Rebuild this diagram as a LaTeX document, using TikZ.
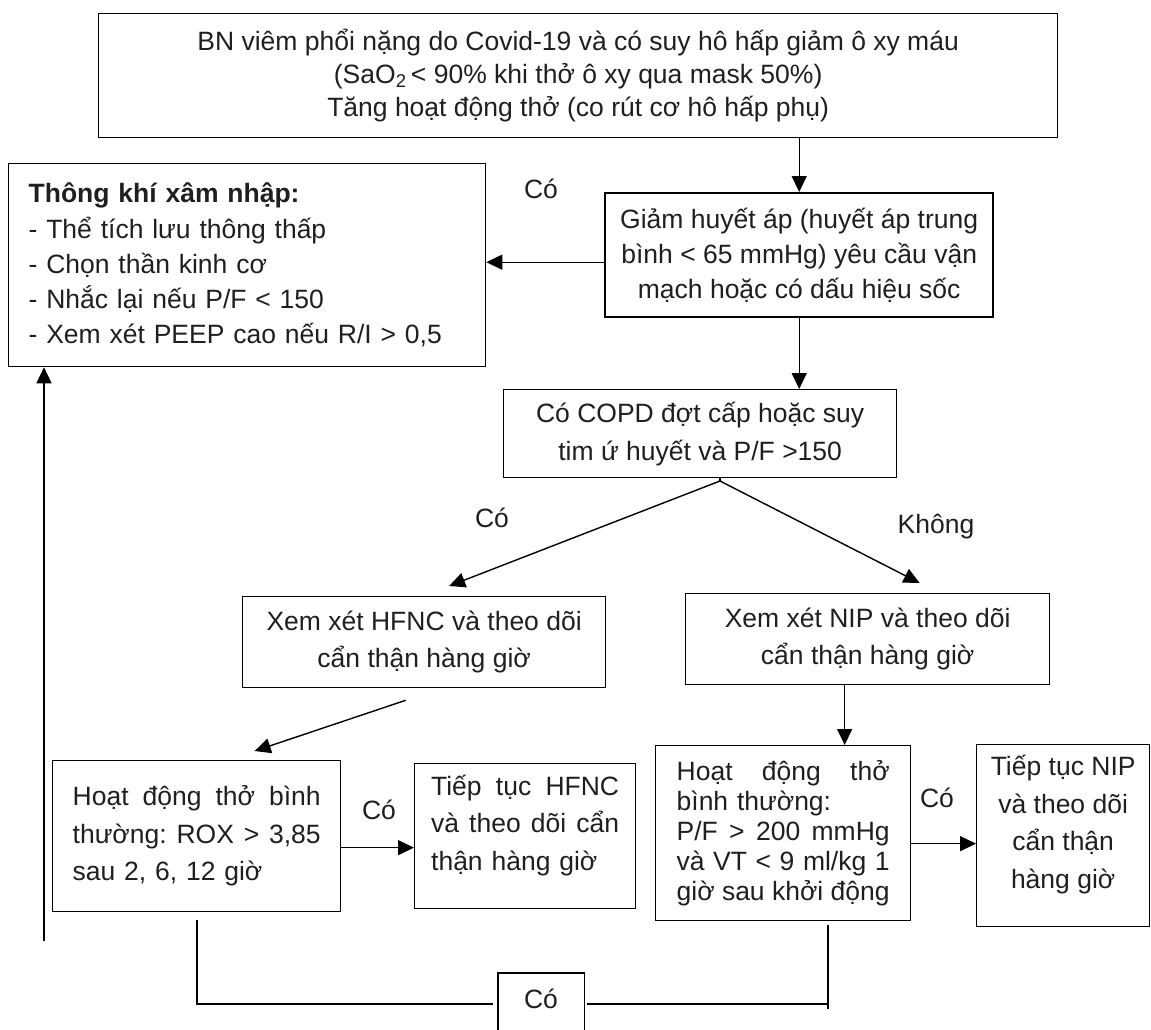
\documentclass[tikz,border=0pt]{standalone}
\usepackage{fontspec}
\setmainfont{Liberation Sans}
\usetikzlibrary{arrows.meta}
\newcommand\fsz[1]{\fontsize{26.5}{#1}\selectfont}
\newcommand\jline[2]{\leavevmode\hbox to #1pt{#2}}
\begin{document}
\begin{tikzpicture}[x=1pt,y=-1pt,
  box/.style={draw=black, line width=1.3pt, inner sep=0pt, anchor=north west, text=black!88},
  txt/.style={inner sep=0pt, text=black!88},
  ln/.style={line width=1.4pt},
  arr/.style={line width=1.4pt, -{Triangle[length=16pt,width=15pt]}},
  lbl/.style={inner sep=0pt, font=\fsz{30}, text=black!88}]
\useasboundingbox (0,0) rectangle (1151,1030);

% boxes
\node[box, minimum width=959, minimum height=124, align=center, font=\fsz{33}] (top) at (98,13)
 {BN viêm phổi nặng do Covid-19 và có suy hô hấp giảm ô xy máu\\(SaO\textsubscript{2}\,< 90\% khi thở ô xy qua mask 50\%)\\Tăng hoạt động thở (co rút cơ hô hấp phụ)};

\node[box, line width=2.4pt, minimum width=388, minimum height=124, align=center, font=\fsz{35}] (giam) at (604,192)
 {Giảm huyết áp (huyết áp trung\\bình < 65 mmHg) yêu cầu vận\\mạch hoặc có dấu hiệu sốc};

\node[box, minimum width=477, minimum height=203, align=left, text width=437, font=\fsz{35.3}] (left) at (8,163)
 {\textbf{Thông khí xâm nhập:}\\- Thể tích lưu thông thấp\\- Chọn thần kinh cơ\\- Nhắc lại nếu P/F < 150\\- Xem xét PEEP cao nếu R/I > 0,5};

\node[box, minimum width=393, minimum height=88, align=center, font=\fsz{38}] (copd) at (503,389)
 {Có COPD đợt cấp hoặc suy\\tim ứ huyết và P/F >150};

\node[box, minimum width=363, minimum height=91, align=center, font=\fsz{37}] (hx) at (242,596)
 {Xem xét HFNC và theo dõi\\cẩn thận hàng giờ};

\node[box, minimum width=364, minimum height=91, align=center, font=\fsz{37}] (nx) at (685,593)
 {Xem xét NIP và theo dõi\\cẩn thận hàng giờ};

\node[box, minimum width=288, minimum height=151, align=left, text width=248, font=\fsz{37.5}] (hh) at (52,760)
 {\jline{248}{Hoạt\hfill động\hfill thở\hfill bình}\\\jline{248}{thường:\hfill ROX\hfill >\hfill 3,85}\\sau 2, 6, 12 giờ};

\node[box, minimum width=221, minimum height=145] (ht) at (414,763) {};
\node[txt, align=left, text width=188, font=\fsz{37.5}] (httext) at ([yshift=11pt]ht.center)
 {\jline{188}{Tiếp\hfill tục\hfill HFNC}\\\jline{188}{và\hfill theo\hfill dõi\hfill cẩn}\\thận hàng giờ};

\node[box, minimum width=255, minimum height=175, align=left, text width=213, font=\fsz{30}] (nh) at (655,745)
 {\jline{213}{Hoạt\hfill động\hfill thở}\\bình thường:\\\jline{213}{P/F\hfill >\hfill 200\hfill mmHg}\\\jline{213}{và\hfill VT\hfill <\hfill 9\hfill ml/kg\hfill 1}\\\jline{213}{giờ\hfill sau\hfill khởi\hfill động}};

\node[box, minimum width=173, minimum height=182] (nt) at (976,744) {};
\node[txt, align=center, font=\fsz{37.5}] (nttext) at ([yshift=11pt]nt.center)
 {Tiếp tục NIP\\và theo dõi\\cẩn thận\\hàng giờ};

% bottom open box
\node[inner sep=0pt, minimum width=86, minimum height=120, anchor=north] (cobox) at (541,973) {};
\draw[ln] (cobox.south west) -- (cobox.north west) -- (cobox.north east) -- (cobox.south east);
\node[lbl] (colbl) at (541,999) {Có};

% labels
\node[lbl] (l1) at (541,189) {Có};
\node[lbl] (l2) at (492,518) {Có};
\node[lbl] (l3) at (936,527) {Không};
\node[lbl] (l4) at (379,810) {Có};
\node[lbl] (l5) at (937,798) {Có};

% coordinates
\coordinate (apex) at (720,481);
\coordinate (hxin) at ([xshift=25pt,yshift=10pt]hx.north);
\coordinate (nxin) at ([xshift=52pt,yshift=10pt]nx.north);
\coordinate (hxout) at ([xshift=-18.5pt,yshift=-12pt]hx.south);
\coordinate (hhin) at ([xshift=58pt,yshift=9pt]hh.north);
\coordinate (nxout) at ([xshift=-23pt]nx.south);
\coordinate (upstart) at (44,941);
\coordinate (hhb) at (197,920);
\coordinate (nhb) at (828,925);
\coordinate (cl) at (493,1004);
\coordinate (cr) at (587,1004);

% connectors
\draw[arr] (top.south -| giam.north) -- (giam.north);
\draw[arr] ([yshift=-7pt]giam.west) -- ([yshift=-7pt]giam.west -| left.east);
\draw[arr] (giam.south) -- (giam.south |- copd.north);
\draw[ln] (apex) -- (copd.south -| apex);
\draw[arr] (apex) -- (hxin);
\draw[arr] (apex) -- (nxin);
\draw[arr] (hxout) -- (hhin);
\draw[arr] (nxout) -- (nxout |- nh.north);
\draw[arr] ([yshift=-11.5pt]hh.east) -- ([yshift=-11.5pt]hh.east -| ht.west);
\draw[arr] ([yshift=-10.5pt]nh.east) -- ([yshift=-10.5pt]nh.east -| nt.west);
\draw[arr] (upstart) -- (upstart |- left.south);
\draw[ln] (hhb) |- (cl);
\draw[ln] (nhb) -- ([yshift=-5pt]nhb |- cr);
\draw[ln] (nhb |- cr) -- (cr);
\end{tikzpicture}
\end{document}
